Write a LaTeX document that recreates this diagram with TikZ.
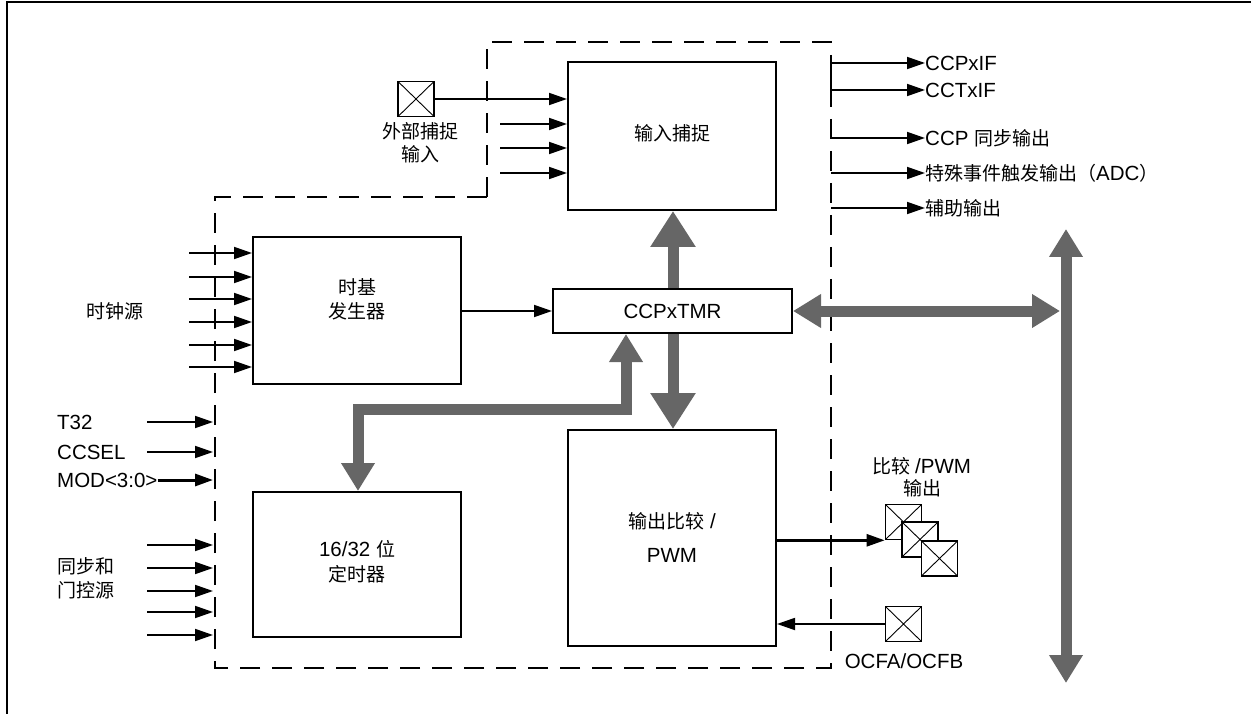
\documentclass[tikz,border=0pt]{standalone}
\usepackage{fontspec}
\setmainfont{Liberation Sans}
\newfontfamily\cjk{Noto Sans CJK SC}
\usetikzlibrary{arrows.meta}
\definecolor{busgray}{HTML}{666666}
\newcommand{\zhtxt}[1]{{\fontsize{19}{22}\selectfont\cjk #1}}
\tikzset{
  blk/.style={draw, line width=2pt, inner sep=0pt, fill=white},
  txt/.style={inner sep=0pt, font=\fontsize{20.5}{24}\selectfont},
  ctxt/.style={inner sep=0pt, font=\fontsize{19}{22}\selectfont\cjk},
  sig/.style={line width=1.8pt, -{Triangle[length=18pt,width=12pt]}},
  sigb/.style={line width=3pt, -{Triangle[length=18pt,width=12pt]}},
  bus/.style={draw=busgray, line width=11pt, line join=miter,
    {Triangle[length=28pt,width=32pt]}-{Triangle[length=28pt,width=32pt]}},
  bigbus/.style={draw=busgray, line width=11pt,
    -{Triangle[length=36pt,width=43pt]}},
  bdry/.style={line width=2pt, dash pattern=on 20pt off 12pt},
  pinbox/.style={draw, line width=1.6pt, inner sep=0pt, fill=white,
    minimum width=36pt, minimum height=35pt,
    path picture={\draw[line width=0.9pt]
      (path picture bounding box.north west) -- (path picture bounding box.south east)
      (path picture bounding box.north east) -- (path picture bounding box.south west);}}
}
\begin{document}
\begin{tikzpicture}[x=1pt,y=-1pt]
\useasboundingbox (0,0) rectangle (1251,714);
% outer frame
\draw[line width=2.5pt] (7,714) -- (7,2) -- (1251,2);
% dashed boundary
\draw[bdry] (487,197) -- (487,42) -- (831,42) -- (831,668) -- (215,668) -- (215,197) -- cycle;

% blocks
\node[blk, minimum width=208pt, minimum height=148pt] (cap) at (672,136) {};
\node[blk, minimum width=208pt, minimum height=147pt] (tb) at (357,310.5) {};
\node[blk, minimum width=208pt, minimum height=145pt] (tmr32) at (357,564.5) {};
\node[blk, minimum width=239pt, minimum height=44pt] (tmr) at (672.5,311) {};
\node[blk, minimum width=208pt, minimum height=216pt] (oc) at (672,538) {};

% block texts
\node[ctxt] (capt) at (672,133) {输入捕捉};
\node[ctxt] (tbt1) at (357,287) {时基};
\node[ctxt] (tbt2) at (357,311) {发生器};
\node[txt] (tmrt) at (672.5,311) {CCPxTMR};
\node[txt] (t32a) at (357,549) {16/32 \zhtxt{位}};
\node[ctxt] (t32b) at (357,574) {定时器};
\node[txt] (oct1) at (672,521) {\zhtxt{输出比较} /};
\node[txt] (oct2) at (672,555) {PWM};

% external capture input
\node[pinbox] (ext) at (416,99) {};
\node[ctxt] (extl1) at (420,131) {外部捕捉};
\node[ctxt] (extl2) at (420,154) {输入};
\draw[sig] (ext.east) -- (ext.east -| cap.west);
\foreach \y/\n in {124/a,148/b,173/c}{
  \coordinate (ci\n) at (500,\y);
  \draw[sig] (ci\n) -- (ci\n -| cap.west);
}

% clock sources
\node[ctxt] (clk) at (115,311) {时钟源};
\foreach \y [count=\i] in {253,277,299,322,345,367}{
  \coordinate (ck\i) at (189,\y);
  \draw[sig] (ck\i) -- (ck\i -| tb.west);
}
\draw[sig] (tb.east |- tmr.west) -- (tmr.west);

% T32 / CCSEL / MOD
\node[txt, anchor=west] (lt32) at (57,422) {T32};
\node[txt, anchor=west] (lccsel) at (57,452) {CCSEL};
\node[txt, anchor=west] (lmod) at (57,480) {MOD<3:0>};
\coordinate (e1) at (213,422);
\coordinate (e2) at (213,452);
\coordinate (e3) at (213,480);
\draw[sig] (147,422) -- (e1);
\draw[sig] (147,452) -- (e2);
\draw[sigb] (lmod.east) -- (e3);

% sync and gate sources
\node[ctxt, anchor=west] (ls1) at (57,566) {同步和};
\node[ctxt, anchor=west] (ls2) at (57,590) {门控源};
\foreach \y [count=\i] in {545,568,591,612,635}{
  \coordinate (sg\i) at (213,\y);
  \draw[sig] (147,\y) -- (sg\i);
}

% outputs
\node[txt, anchor=west] (o1) at (925,63) {CCPxIF};
\node[txt, anchor=west] (o2) at (925,90) {CCTxIF};
\node[txt, anchor=west] (o3) at (925,138) {CCP \zhtxt{同步输出}};
\node[txt, anchor=west] (o4) at (925,173) {\zhtxt{特殊事件触发输出（}ADC\zhtxt{）}};
\node[ctxt, anchor=west] (o5) at (925,208) {辅助输出};
\coordinate (r1) at (831,63);
\coordinate (r2) at (831,68);
\coordinate (r3) at (831,138);
\coordinate (r4) at (831,173);
\coordinate (r5) at (831,208);
\draw[sig] (r1) -- (o1.west);
\draw[sig] (r2) |- (o2.west);
\draw[sig] (r3) -- (o3.west);
\draw[sig] (r4) -- (o4.west);
\draw[sig] (r5) -- (o5.west);

% compare / PWM output pins
\node[ctxt] (cmpl1) at (922,466) {比较 \fontsize{20.5}{24}\selectfont\rmfamily/PWM};
\node[ctxt] (cmpl2) at (922,488) {输出};
\node[pinbox] (p1) at (903.5,522) {};
\node[pinbox] (p2) at (920,539.5) {};
\node[pinbox] (p3) at (939.5,558.5) {};
\draw[line width=2.5pt, -{Triangle[length=18pt,width=12pt]}] (oc.east |- p1.south west) -- (p1.south west);

% OCFA/OCFB
\node[pinbox] (ocf) at (903.5,624) {};
\node[txt] (ocfl) at (904,661) {OCFA/OCFB};
\draw[sig] (ocf.west) -- (ocf.west -| oc.east);

% gray buses
\draw[bigbus] (tmr.north -| 673,0) -- (cap.south -| 673,0);
\draw[bigbus] (tmr.south -| 673,0) -- (oc.north -| 673,0);
\coordinate (bA) at (358,409);
\coordinate (bB) at (626,409);
\draw[bus] (tmr32.north -| bA) -- (bA) -- (bB) -- (tmr.south -| bB);
\coordinate (vb1) at (1066,229);
\coordinate (vb2) at (1066,683);
\coordinate (hb) at (1060,311);
\draw[bus] (tmr.east) -- (hb);
\draw[bus] (vb1) -- (vb2);
\end{tikzpicture}
\end{document}
